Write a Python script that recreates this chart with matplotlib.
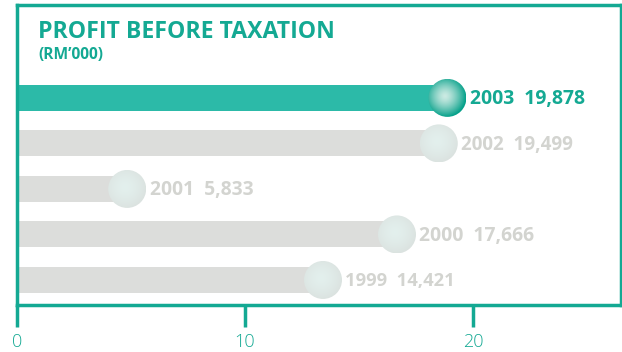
import numpy as np
import matplotlib
matplotlib.use("Agg")
import matplotlib.pyplot as plt
from matplotlib.patches import Ellipse
from matplotlib import font_manager

years = ["1999", "2000", "2001", "2002", "2003"]
values = [14421, 17666, 5833, 19499, 19878]  # RM'000
xticks = [0, 10, 20]
title = "PROFIT BEFORE TAXATION"
subtitle = "(RM\u2019000)"

TEAL = "#14a993"
BAR_TEAL = "#2cbaa8"
GRAY_BAR = "#dcdddb"
GRAY_TXT = "#d3d4d0"

names = {f.name for f in font_manager.fontManager.ttflist}
fam = ["DejaVu Sans"]
for cand in ["Open Sans", "Noto Sans", "Lato"]:
    if cand in names:
        fam = [cand, "DejaVu Sans"]
        break

fig = plt.figure(figsize=(6.22, 3.52), dpi=100)
W, H = 622, 352
ax = fig.add_axes([17 / W, (352 - 305) / H, (621 - 17) / W, (305 - 5) / H])
XMAX = 604 / 22.8
YLIM = (-0.55, 6.04)
ax.set_xlim(0, XMAX)
ax.set_ylim(*YLIM)

px_x = 22.8  # px per unit x
px_y = 300 / (YLIM[1] - YLIM[0])  # px per unit y
r_px = 19
offset = 1.0  # circle centre sits about one unit before the value

renderer = fig.canvas.get_renderer()


def fit(t, target):
    w = t.get_window_extent(renderer).width
    t.set_fontsize(t.get_fontsize() * target / w)


label_targets = [110, 116, 104, 113, 116]
for i, (yr, v) in enumerate(zip(years, values)):
    val = v / 1000.0
    cx = val - offset
    last = i == len(years) - 1
    ax.barh(i, cx, height=0.57, color=BAR_TEAL if last else GRAY_BAR, zorder=2)
    ell = Ellipse((cx, i), 2 * r_px / px_x, 2 * r_px / px_y, facecolor="none",
                  edgecolor="none", zorder=3)
    ax.add_patch(ell)
    n = 200
    yy, xx = np.mgrid[-1:1:n * 1j, -1:1:n * 1j]
    d = np.sqrt((xx + 0.1) ** 2 + (yy + 0.1) ** 2)
    d = np.clip(d / 1.1, 0, 1)
    if last:
        c_in = np.array([0.80, 0.92, 0.89])
        c_out = np.array([0.02, 0.63, 0.54])
        t = d ** 1.4
    else:
        c_in = np.array([0.89, 0.94, 0.93])
        c_out = np.array([0.86, 0.89, 0.88])
        t = d ** 1.5
    img = c_in[None, None, :] * (1 - t[..., None]) + c_out[None, None, :] * t[..., None]
    im = ax.imshow(img, extent=(cx - r_px / px_x, cx + r_px / px_x, i - r_px / px_y, i + r_px / px_y),
                   origin="upper", zorder=3, aspect="auto", interpolation="bilinear")
    im.set_clip_path(ell)
    a = ax.annotate(f"{yr}  {v:,}", (cx + r_px / px_x, i), xytext=(2.5, -1), textcoords="offset points",
                    ha="left", va="center", fontsize=14, fontweight="bold", family=fam,
                    color=TEAL if last else GRAY_TXT, zorder=4)
    fit(a, label_targets[i])

ax.set_xlim(0, XMAX)
ax.set_ylim(*YLIM)

for s in ax.spines.values():
    s.set_color(TEAL)
    s.set_linewidth(2.5)
ax.set_yticks([])
ax.set_xticks(xticks)
ax.set_xticklabels([str(t) for t in xticks], fontsize=13, color=TEAL, family=fam, fontweight="light")
ax.tick_params(axis="x", length=16, width=2.5, color=TEAL, pad=4)

tt = fig.text(38 / W, 1 - 38 / H, title, fontsize=19, fontweight="bold", color=TEAL, family=fam,
              ha="left", va="baseline")
fit(tt, 295)
st = fig.text(38 / W, 1 - 59 / H, subtitle, fontsize=10.5, fontweight="bold", color=TEAL, family=fam,
              ha="left", va="baseline")
fit(st, 66)

fig.savefig("out.png", dpi=100)
